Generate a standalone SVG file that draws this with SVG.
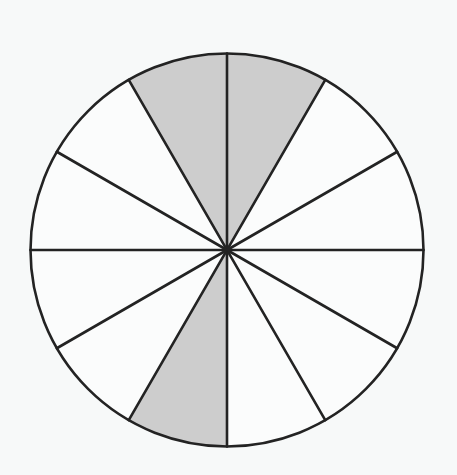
<svg xmlns="http://www.w3.org/2000/svg" width="457" height="475" viewBox="0 0 457 475">
<style>
.shade{fill:#cdcdcd;stroke:none}
.ln{stroke:#232323;stroke-width:2.6;fill:none;stroke-linecap:round}
</style>
<rect width="457" height="475" fill="#f7f9f9"/>
<g id="circle">
<circle cx="227" cy="250" r="196.5" fill="#fbfcfc"/>
<path class="shade" d="M227,250 L128.75,79.83 A196.5,196.5 0 0 1 325.25,79.83 Z"/>
<path class="shade" d="M227,250 L227,446.5 A196.5,196.5 0 0 1 128.75,420.17 Z"/>
</g>
<g id="connectors">
<line class="ln" x1="227" y1="53.5" x2="227" y2="446.5"/>
<line class="ln" x1="30.5" y1="250" x2="423.5" y2="250"/>
<line class="ln" x1="128.75" y1="79.83" x2="325.25" y2="420.17"/>
<line class="ln" x1="325.25" y1="79.83" x2="128.75" y2="420.17"/>
<line class="ln" x1="56.83" y1="151.75" x2="397.17" y2="348.25"/>
<line class="ln" x1="397.17" y1="151.75" x2="56.83" y2="348.25"/>
<circle class="ln" cx="227" cy="250" r="196.5"/>
</g>
</svg>
